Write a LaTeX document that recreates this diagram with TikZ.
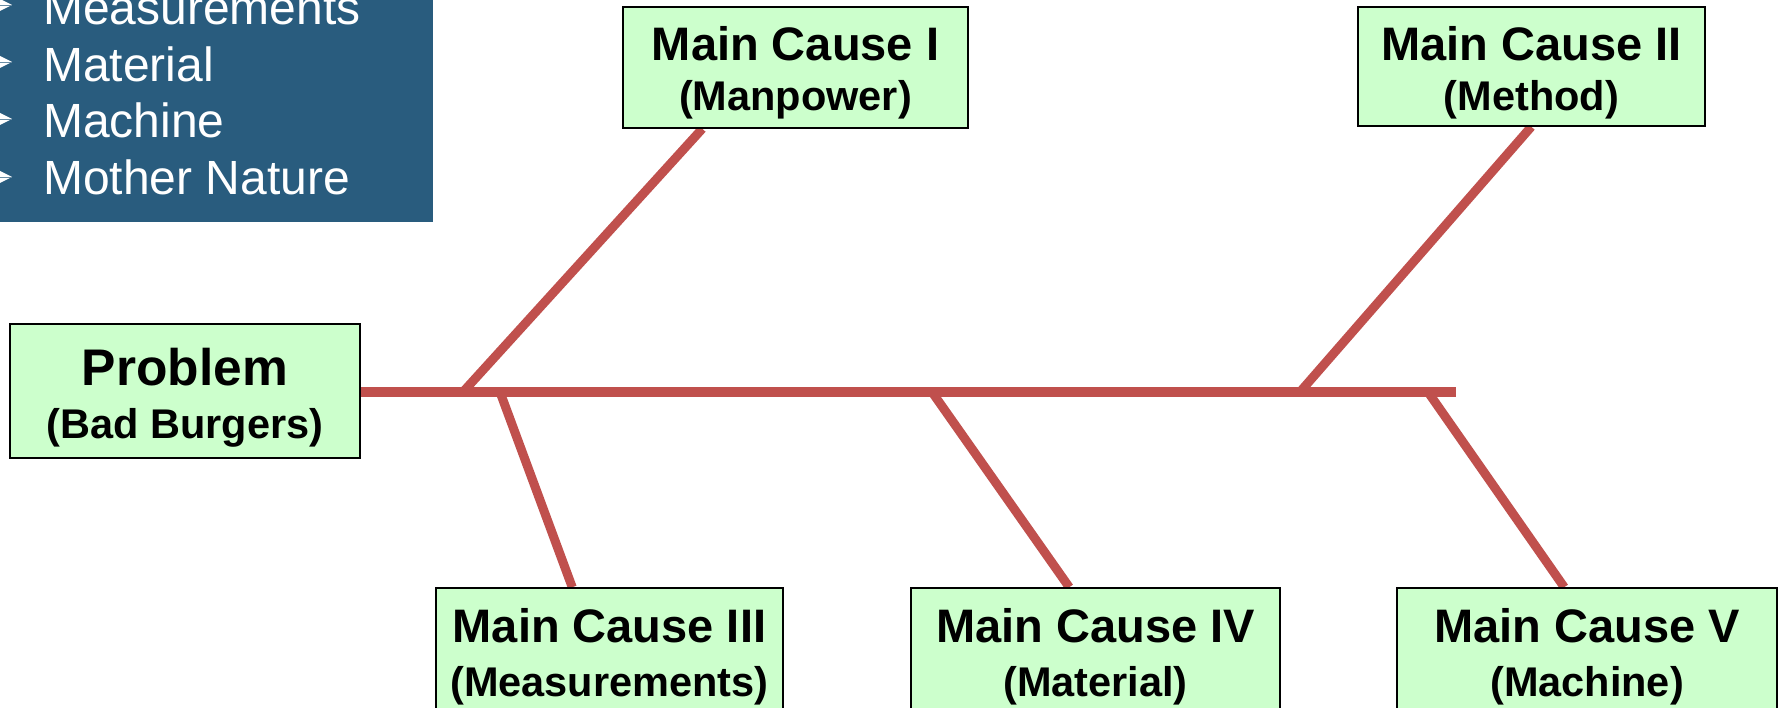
\documentclass[tikz,border=0pt]{standalone}
\usepackage{fontspec}
\setmainfont{Liberation Sans}
\usetikzlibrary{backgrounds,calc}
\definecolor{boxgreen}{RGB}{204,255,204}
\definecolor{bonered}{RGB}{192,80,77}
\definecolor{panelblue}{RGB}{41,92,126}
\begin{document}
\begin{tikzpicture}[x=1pt,y=-1pt,
  box/.style={draw=black, line width=1.5pt, fill=boxgreen, rectangle, inner sep=0pt},
  bigtxt/.style={font=\fontsize{47}{47}\selectfont\bfseries, inner sep=0pt, anchor=base},
  smalltxt/.style={font=\fontsize{41.5}{41.5}\selectfont\bfseries, inner sep=0pt, anchor=base},
  probtxt/.style={font=\fontsize{51.5}{51.5}\selectfont\bfseries, inner sep=0pt, anchor=base},
  bone/.style={draw=bonered, line width=9pt},
  spine/.style={draw=bonered, line width=10pt},
  item/.style={font=\fontsize{48}{48}\selectfont, text=white, inner sep=0pt, anchor=base west},
  bulletshape/.pic={\fill[white] (12,0) -- (-8,-10) -- (-3,0) -- (-8,10) -- cycle;
                    \draw[panelblue!70!white, line width=0.8pt] (-3,0) -- (12,0);}]
\useasboundingbox (0,0) rectangle (1779,708);

% blue panel
\fill[panelblue] (-5,-5) rectangle (433,222);
\pic at (0,5) {bulletshape};
\node[item] (i1) at (43,25) {Measurements};
\pic at (0,62) {bulletshape};
\node[item] (i2) at (43,82) {Material};
\pic at (0,119) {bulletshape};
\node[item] (i3) at (43,138) {Machine};
\pic at (0,177) {bulletshape};
\node[item] (i4) at (43,195) {Mother Nature};

% boxes
\node[box, minimum width=350pt, minimum height=134pt] (prob) at (185,391) {};
\node[probtxt] (probA) at (185,385) {Problem};
\node[smalltxt] (probB) at (185,438) {(Bad Burgers)};

\node[box, minimum width=345pt, minimum height=121pt] (mc1) at (795.5,67.5) {};
\node[bigtxt] (mc1A) at (795.5,61) {Main Cause I};
\node[smalltxt] (mc1B) at (795.5,111) {(Manpower)};

\node[box, minimum width=347pt, minimum height=119pt] (mc2) at (1531.5,66.5) {};
\node[bigtxt] (mc2A) at (1531.5,61) {Main Cause II};
\node[smalltxt] (mc2B) at (1531.5,111) {(Method)};

\node[box, minimum width=347pt, minimum height=124pt] (mc3) at (609.5,650) {};
\node[bigtxt] (mc3A) at (609.5,642) {Main Cause III};
\node[smalltxt] (mc3B) at (609.5,696) {(Measurements)};

\node[box, minimum width=369pt, minimum height=124pt] (mc4) at (1095.5,650) {};
\node[bigtxt] (mc4A) at (1095.5,642) {Main Cause IV};
\node[smalltxt] (mc4B) at (1095.5,696) {(Material)};

\node[box, minimum width=380pt, minimum height=124pt] (mc5) at (1587,650) {};
\node[bigtxt] (mc5A) at (1587,642) {Main Cause V};
\node[smalltxt] (mc5B) at (1587,696) {(Machine)};

% spine joints
\coordinate (j1) at (463,392);
\coordinate (j3) at (500,392);
\coordinate (j4) at (932,392);
\coordinate (j2) at (1300,392);
\coordinate (j5) at (1428,392);
\coordinate (send) at (1456,392);

\begin{pgfonlayer}{background}
  \draw[spine] (prob.east |- send) -- (send);
  \draw[bone] (j1) -- ($(mc1.south west)+(80,0)$);
  \draw[bone] (j2) -- ($(mc2.south west)+(174,0)$);
  \draw[bone] (j3) -- ($(mc3.north west)+(137,0)$);
  \draw[bone] (j4) -- ($(mc4.north west)+(159,0)$);
  \draw[bone] (j5) -- ($(mc5.north west)+(168,0)$);
\end{pgfonlayer}
\end{tikzpicture}
\end{document}
